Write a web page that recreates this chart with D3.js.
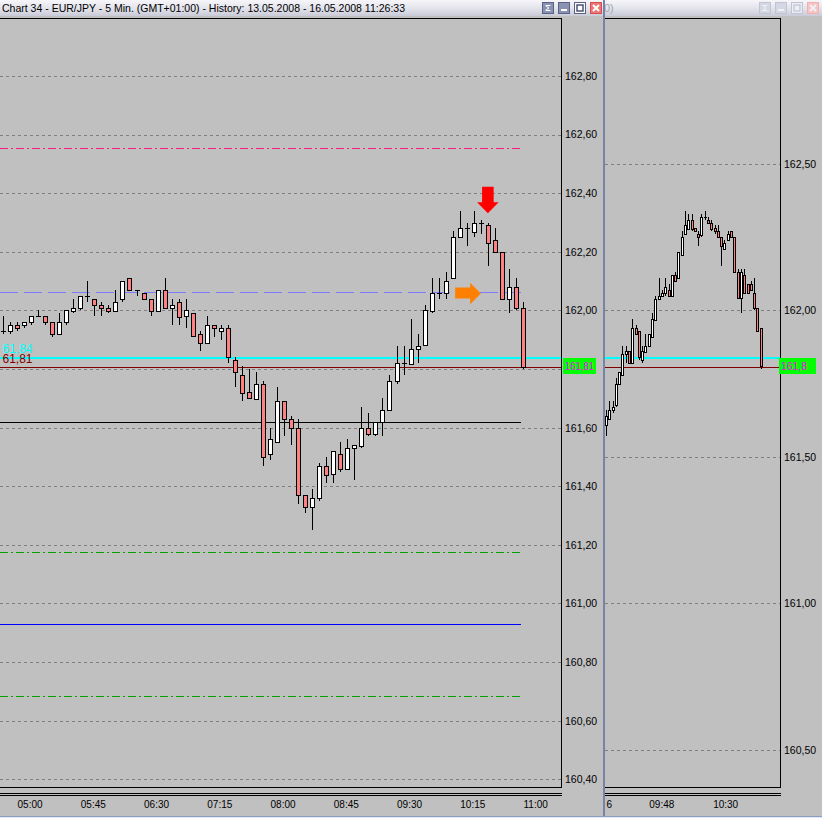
<!DOCTYPE html>
<html>
<head>
<meta charset="utf-8">
<script src="https://cdn.jsdelivr.net/npm/d3@7"></script>
<style>
  body { margin: 0; background: #c0c0c0; overflow: hidden; }
  svg { display: block; }
  text { font-family: "Liberation Sans", Arial, sans-serif; }
</style>
</head>
<body>
<div id="wrapper"></div>
<script>
// 5 min EUR/JPY candles (left window)
const leftOpen  = [161.93,161.93,161.95,161.95,161.96,161.98,161.98,161.96,161.92,161.96,
                   162.00,162.01,162.05,162.04,162.02,162.01,162.00,162.04,162.11,162.07,
                   162.06,162.04,162.00,162.07,162.01,162.03,161.98,161.99,161.92,161.89,
                   161.95,161.93,161.94,161.83,161.78,161.72,161.70,161.75,161.51,161.55,
                   161.69,161.63,161.60,161.37,161.33,161.36,161.47,161.44,161.51,161.46,
                   161.53,161.54,161.60,161.58,161.62,161.66,161.76,161.82,161.82,161.87,
                   161.88,162.00,162.06,162.06,162.11,162.25,162.28,162.27,162.30,162.29,
                   162.24,162.20,162.04,162.08,162.01]
const leftHigh  = [161.98,161.96,161.96,161.96,161.98,162.00,161.98,161.96,161.99,162.00,
                   162.04,162.05,162.10,162.04,162.03,162.02,162.07,162.10,162.11,162.07,
                   162.06,162.04,162.07,162.11,162.04,162.04,162.04,161.99,161.93,161.98,
                   161.95,161.95,161.95,161.84,161.81,161.80,161.79,161.76,161.60,161.74,
                   161.69,161.64,161.63,161.37,161.39,161.48,161.50,161.52,161.55,161.56,
                   161.54,161.67,161.65,161.62,161.70,161.78,161.88,161.88,161.97,161.92,
                   162.02,162.11,162.11,162.13,162.27,162.34,162.30,162.34,162.31,162.30,
                   162.28,162.20,162.14,162.11,162.03]
const leftLow   = [161.92,161.92,161.93,161.94,161.95,161.98,161.95,161.91,161.92,161.95,
                   161.99,162.00,162.03,161.98,161.98,161.99,162.00,162.03,162.07,162.05,
                   162.04,161.98,162.00,162.01,161.95,161.95,161.94,161.91,161.86,161.89,
                   161.91,161.90,161.82,161.74,161.69,161.70,161.70,161.47,161.49,161.55,
                   161.57,161.54,161.34,161.31,161.25,161.35,161.41,161.41,161.45,161.46,
                   161.42,161.53,161.57,161.57,161.57,161.66,161.75,161.78,161.82,161.82,
                   161.88,161.99,162.04,162.04,162.11,162.25,162.22,162.25,162.26,162.15,
                   162.20,162.04,161.99,162.00,161.80]
const leftClose = [161.93,161.95,161.94,161.96,161.98,161.98,161.96,161.92,161.96,162.00,
                   162.01,162.05,162.05,162.02,162.01,162.00,162.03,162.10,162.07,162.07,
                   162.04,162.00,162.07,162.01,162.02,161.98,162.00,161.91,161.89,161.95,
                   161.94,161.94,161.84,161.79,161.72,161.70,161.75,161.50,161.56,161.69,
                   161.63,161.60,161.37,161.33,161.36,161.47,161.44,161.52,161.46,161.53,
                   161.54,161.60,161.58,161.62,161.66,161.76,161.82,161.82,161.87,161.88,
                   162.00,162.06,162.06,162.10,162.25,162.28,162.28,162.30,162.30,162.23,
                   162.20,162.04,162.08,162.01,161.81]

// second window candles
const rightOpen  = [161.61,161.63,161.66,161.68,161.75,161.78,161.85,161.86,161.82,161.94,
                    161.93,161.83,161.86,161.88,161.91,161.97,162.04,162.05,162.06,162.07,
                    162.05,162.12,162.11,162.19,162.26,162.28,162.31,162.28,162.26,162.26,
                    162.32,162.31,162.30,162.28,162.27,162.25,162.21,162.24,162.27,162.25,
                    162.13,162.04,162.12,162.09,162.09,162.06,162.01,161.94]
const rightHigh  = [161.66,161.69,161.69,161.77,161.79,161.88,161.88,161.86,161.97,161.95,
                    161.93,161.88,161.92,161.92,161.99,162.05,162.11,162.07,162.11,162.09,
                    162.12,162.13,162.20,162.27,162.34,162.33,162.33,162.28,162.27,162.33,
                    162.34,162.32,162.31,162.29,162.29,162.25,162.24,162.27,162.27,162.25,
                    162.14,162.14,162.14,162.09,162.10,162.11,162.01,161.94]
const rightLow   = [161.57,161.63,161.65,161.67,161.75,161.78,161.82,161.82,161.82,161.92,
                    161.83,161.82,161.86,161.88,161.91,161.97,162.04,162.05,162.05,162.05,
                    162.05,162.10,162.11,162.19,162.26,162.28,162.27,162.27,162.22,162.25,
                    162.31,162.30,162.27,162.26,162.25,162.15,162.21,162.24,162.25,162.13,
                    162.04,161.99,162.06,162.06,162.07,162.00,161.93,161.80]
const rightClose = [161.64,161.66,161.67,161.75,161.79,161.85,161.86,161.82,161.94,161.92,
                    161.84,161.86,161.88,161.92,161.97,162.04,162.05,162.06,162.08,162.05,
                    162.12,162.10,162.20,162.25,162.29,162.31,162.28,162.27,162.25,162.32,
                    162.32,162.30,162.28,162.27,162.25,162.22,162.23,162.26,162.25,162.13,
                    162.04,162.13,162.06,162.06,162.07,162.01,161.93,161.81]

const priceTicks = [162.8,162.6,162.4,162.2,162.0,161.8,161.6,161.4,161.2,161.0,160.8,160.6,160.4]
const rightPriceTicks = [162.5,162.0,161.5,161.0,160.5]
const leftTimeLabels = ["05:00","05:45","06:30","07:15","08:00","08:45","09:30","10:15","11:00"]
const leftTimeIndex = [2,11,20,29,38,47,56,65,74]
const rightTimeLabels = ["6","09:48","10:30"]
const rightTimeIndex = [0,13,32.4]

// horizontal objects on the chart
const levelPrices = [162.553,162.062,161.837,161.806,161.619,161.176,160.930,160.684]
const levelLabels = ["61,84","61,81"]   // what shows of the two labels cut by the window edge
const bidPrice = 161.81
const redArrow = { index: 69, price: 162.332 }
const orangeArrow = { index: 68, price: 162.058 }

const dimensions = {
  width: 822,
  height: 818,
  plotTop: 18,
  plotBottom: 787,
  left: { x0: 0, x1: 561 },
  right: { x0: 605, x1: 780 },
}

const svg = d3.select("#wrapper")
  .append("svg")
    .attr("width", dimensions.width)
    .attr("height", dimensions.height)

const defs = svg.append("defs")
const grad = defs.append("linearGradient")
    .attr("id", "titleGrad")
    .attr("x1", 0).attr("x2", 0).attr("y1", 0).attr("y2", 1)
grad.append("stop").attr("offset", "0%").attr("stop-color", "#f6f6fa")
grad.append("stop").attr("offset", "55%").attr("stop-color", "#e2e2ea")
grad.append("stop").attr("offset", "100%").attr("stop-color", "#c9cbd8")

const clipL = defs.append("clipPath").attr("id", "clipL")
clipL.append("rect")
  .attr("x", dimensions.left.x0).attr("y", dimensions.plotTop)
  .attr("width", dimensions.left.x1 - dimensions.left.x0)
  .attr("height", dimensions.plotBottom - dimensions.plotTop)
const clipR = defs.append("clipPath").attr("id", "clipR")
clipR.append("rect")
  .attr("x", dimensions.right.x0).attr("y", dimensions.plotTop)
  .attr("width", dimensions.right.x1 - dimensions.right.x0)
  .attr("height", dimensions.plotBottom - dimensions.plotTop)

svg.append("rect")
  .attr("width", dimensions.width).attr("height", dimensions.height)
  .attr("fill", "#c0c0c0")

// scales
const yScale = d3.scaleLinear()
  .domain([160.4, 162.8])
  .range([779.3, 76])
const xLeft = d3.scaleLinear()
  .domain([0, leftOpen.length - 1])
  .range([3, 523])
const xRight = d3.scaleLinear()
  .domain([0, rightOpen.length - 1])
  .range([606, 760.7])

const snap = v => Math.round(v) + 0.5
const fmt = v => d3.format(".2f")(v).replace(".", ",")

// --- title bars
svg.append("rect")
  .attr("x", 0).attr("y", 0).attr("width", 603).attr("height", 16)
  .attr("fill", "url(#titleGrad)")
svg.append("rect")
  .attr("x", 605).attr("y", 0).attr("width", 217).attr("height", 16)
  .attr("fill", "url(#titleGrad)")
svg.append("text")
  .attr("x", 2).attr("y", 12)
  .attr("font-size", 11.5)
  .attr("textLength", 403)
  .attr("lengthAdjust", "spacingAndGlyphs")
  .attr("fill", "#000")
  .text("Chart 34 - EUR/JPY - 5 Min. (GMT+01:00) - History: 13.05.2008 - 16.05.2008 11:26:33")
svg.append("text")
  .attr("x", 604).attr("y", 12)
  .attr("font-size", 11)
  .attr("fill", "#a4a6b0")
  .text("0)")

function drawButtons(x0, faded) {
  const base = faded ? "#d4d8e4" : "#8a92b4"
  const edge = faded ? "#c0c4d2" : "#5a6286"
  const ink = faded ? "#f0f0f4" : "#ffffff"
  const xs = [x0, x0 + 16, x0 + 32, x0 + 48]
  xs.forEach((x, i) => {
    const g = svg.append("g").attr("transform", `translate(${x},2)`)
    g.append("rect")
      .attr("x", 0.5).attr("y", 0.5).attr("width", 11).attr("height", 11)
      .attr("fill", i === 3 ? (faded ? "#f6c4c4" : "#f07474") : (i === 2 ? (faded ? "#eceef4" : "#ffffff") : base))
      .attr("stroke", i === 3 ? (faded ? "#f0b0b0" : "#d05050") : edge)
    if (i === 0) {
      g.append("path").attr("d", "M3.5,3.5H8.5M4,4L7,6L4,8M3.5,8.5H8.5")
        .attr("stroke", ink).attr("fill", "none")
    } else if (i === 1) {
      g.append("rect").attr("x", 3).attr("y", 7).attr("width", 6).attr("height", 2).attr("fill", ink)
    } else if (i === 2) {
      g.append("rect").attr("x", 3).attr("y", 3).attr("width", 6).attr("height", 6)
        .attr("fill", "none").attr("stroke", faded ? "#c8ccd8" : "#4a5278").attr("stroke-width", 1.5)
    } else {
      g.append("path").attr("d", "M3,3L9,9M9,3L3,9")
        .attr("stroke", ink).attr("stroke-width", 2)
    }
  })
}
drawButtons(542, false)
drawButtons(759, true)

// window divider and bottom edge
svg.append("rect").attr("x", 603).attr("y", 0).attr("width", 2).attr("height", dimensions.height)
  .attr("fill", "#7884a6")
svg.append("line")
  .attr("x1", 0).attr("x2", dimensions.width).attr("y1", 816.5).attr("y2", 816.5)
  .attr("stroke", "#8c9cc4")
svg.append("rect").attr("x", 0).attr("y", 817).attr("width", dimensions.width).attr("height", 1)
  .attr("fill", "#e4e8f0")

// --- plot frames
function drawFrame(x0, x1) {
  const g = svg.append("g").attr("stroke", "#000").attr("shape-rendering", "crispEdges")
  g.append("line").attr("x1", x0).attr("x2", x1 + 1).attr("y1", 18.5).attr("y2", 18.5)
  g.append("line").attr("x1", x1 + 0.5).attr("x2", x1 + 0.5).attr("y1", 18).attr("y2", 788)
  g.append("line").attr("x1", x0).attr("x2", x1 + 1).attr("y1", 787.5).attr("y2", 787.5)
  g.append("line").attr("x1", x0).attr("x2", x1 + 1).attr("y1", 793.5).attr("y2", 793.5)
  g.append("line").attr("x1", x0).attr("x2", x1 + 1).attr("y1", 795.5).attr("y2", 795.5)
}

// --- gridlines
function drawGrid(ticks, x0, x1) {
  svg.append("g")
    .selectAll("line")
    .data(ticks)
    .join("line")
      .attr("x1", x0).attr("x2", x1)
      .attr("y1", d => snap(yScale(d)))
      .attr("y2", d => snap(yScale(d)))
      .attr("stroke", "#808080")
      .attr("stroke-dasharray", "3,3")
      .attr("shape-rendering", "crispEdges")
}
drawGrid(priceTicks, 0, dimensions.left.x1)
drawGrid(rightPriceTicks, dimensions.right.x0, dimensions.right.x1)

// --- level lines
const levelStyles = [
  { color: "#ff1a80", dash: "8,3,2,3", width: 1, full: false },
  { color: "#7c7cff", dash: "18,6", width: 1, full: false },
  { color: "#00ffff", dash: null, width: 2, full: true },
  { color: "#800000", dash: null, width: 1, full: true },
  { color: "#000000", dash: null, width: 1, full: false },
  { color: "#00a000", dash: "8,3,2,3", width: 1, full: false },
  { color: "#0000ff", dash: null, width: 1, full: false },
  { color: "#00a000", dash: "8,3,2,3", width: 1, full: false },
]
const levelEnd = xLeft(leftOpen.length - 1) - 2
const levels = levelPrices.map((p, i) => ({ price: p, ...levelStyles[i] }))
const levelY = d => d.width === 2 ? Math.round(yScale(d.price)) : snap(yScale(d.price))

svg.append("g")
  .selectAll("line")
  .data(levels)
  .join("line")
    .attr("x1", 0)
    .attr("x2", d => d.full ? dimensions.left.x1 : levelEnd)
    .attr("y1", levelY)
    .attr("y2", levelY)
    .attr("stroke", d => d.color)
    .attr("stroke-width", d => d.width)
    .attr("stroke-dasharray", d => d.dash)
    .attr("shape-rendering", "crispEdges")

svg.append("g")
  .selectAll("line")
  .data(levels.filter(d => d.full))
  .join("line")
    .attr("x1", dimensions.right.x0)
    .attr("x2", dimensions.right.x1)
    .attr("y1", levelY)
    .attr("y2", levelY)
    .attr("stroke", d => d.color)
    .attr("stroke-width", d => d.width)
    .attr("shape-rendering", "crispEdges")

// --- candles
function drawCandles(open, high, low, close, xScale, bodyW, clipId) {
  const data = open.map((o, i) => ({ i, o, h: high[i], l: low[i], c: close[i] }))
  const g = svg.append("g")
    .attr("clip-path", `url(#${clipId})`)
    .attr("shape-rendering", "crispEdges")
  const cx = d => Math.round(xScale(d.i)) + 0.5

  g.selectAll(".wick")
    .data(data)
    .join("line")
      .attr("class", "wick")
      .attr("x1", cx).attr("x2", cx)
      .attr("y1", d => yScale(d.h))
      .attr("y2", d => yScale(d.l))
      .attr("stroke", "#000")

  g.selectAll(".body")
    .data(data.filter(d => d.o !== d.c))
    .join("rect")
      .attr("class", "body")
      .attr("x", d => cx(d) - bodyW / 2)
      .attr("y", d => Math.round(yScale(Math.max(d.o, d.c))) + 0.5)
      .attr("width", bodyW)
      .attr("height", d => Math.max(1, Math.round(Math.abs(yScale(d.o) - yScale(d.c)))))
      .attr("fill", d => d.c > d.o ? "#ffffff" : "#ff8080")
      .attr("stroke", "#000")

  g.selectAll(".doji")
    .data(data.filter(d => d.o === d.c))
    .join("line")
      .attr("class", "doji")
      .attr("x1", d => cx(d) - bodyW / 2 - 0.5)
      .attr("x2", d => cx(d) + bodyW / 2 + 0.5)
      .attr("y1", d => snap(yScale(d.o)))
      .attr("y2", d => snap(yScale(d.o)))
      .attr("stroke", "#000")
}
drawCandles(leftOpen, leftHigh, leftLow, leftClose, xLeft, 4, "clipL")
drawCandles(rightOpen, rightHigh, rightLow, rightClose, xRight, 2, "clipR")

// --- arrows
const rx = xLeft(redArrow.index), ry = yScale(redArrow.price)
svg.append("path")
  .attr("d", `M${rx},${ry} l-10.8,-11 h5 v-15.3 h11.6 v15.3 h5 z`)
  .attr("fill", "#ff0000")
const ox = xLeft(orangeArrow.index), oy = yScale(orangeArrow.price)
svg.append("path")
  .attr("d", `M${ox},${oy} l-10.7,-10.7 v4.7 h-15 v11 h15 v5.7 z`)
  .attr("fill", "#ff8000")

// --- labels of the cyan / maroon levels, at the window's left edge
svg.append("text")
  .attr("x", 2.5).attr("y", yScale(levelPrices[2]) - 5.5)
  .attr("font-size", 12)
  .attr("fill", "#00ffff")
  .text(levelLabels[0])
svg.append("text")
  .attr("x", 2.5).attr("y", yScale(levelPrices[3]) - 4)
  .attr("font-size", 12)
  .attr("fill", "#800000")
  .text(levelLabels[1])

drawFrame(dimensions.left.x0, dimensions.left.x1)
drawFrame(dimensions.right.x0, dimensions.right.x1)

// --- price axes (a label hidden by the bid box is left out)
const bidY = yScale(bidPrice)
function drawPriceAxis(ticks, x) {
  const axis = d3.axisRight(yScale)
    .tickValues(ticks.filter(t => Math.abs(yScale(t) - bidY) > 10))
    .tickFormat(fmt)
    .tickSize(0)
    .tickPadding(4)
  const g = svg.append("g")
    .attr("transform", `translate(${x},0)`)
    .call(axis)
  g.select(".domain").remove()
  g.selectAll("text")
    .attr("font-family", "'Liberation Sans', Arial, sans-serif")
    .attr("font-size", 10.5)
    .attr("fill", "#000")
}
drawPriceAxis(priceTicks, dimensions.left.x1)
drawPriceAxis(rightPriceTicks, dimensions.right.x1)

// bid label boxes
function drawBid(x, w, label, len) {
  svg.append("rect")
    .attr("x", x).attr("y", Math.round(bidY) - 8)
    .attr("width", w).attr("height", 16)
    .attr("fill", "#00ff00")
  svg.append("text")
    .attr("x", x + 2).attr("y", bidY)
    .attr("dy", "0.35em")
    .attr("font-size", 10.5)
    .attr("textLength", len)
    .attr("lengthAdjust", "spacingAndGlyphs")
    .attr("fill", "#ff00ff")
    .text(label)
}
drawBid(563, 33, fmt(bidPrice), 29)
drawBid(779, 37, fmt(bidPrice).slice(0, 5), 26)

// --- time axes
function drawTimeAxis(xScale, idx, labels) {
  const axis = d3.axisBottom(xScale)
    .tickValues(idx)
    .tickFormat((d, i) => labels[i])
    .tickSize(0)
    .tickPadding(0)
  const g = svg.append("g")
    .attr("transform", "translate(0,801)")
    .call(axis)
  g.select(".domain").remove()
  g.selectAll("text")
    .attr("text-anchor", "start")
    .attr("font-family", "'Liberation Sans', Arial, sans-serif")
    .attr("font-size", 10)
    .attr("fill", "#000")
}
drawTimeAxis(xLeft, leftTimeIndex, leftTimeLabels)
drawTimeAxis(xRight, rightTimeIndex, rightTimeLabels)
</script>
</body>
</html>
